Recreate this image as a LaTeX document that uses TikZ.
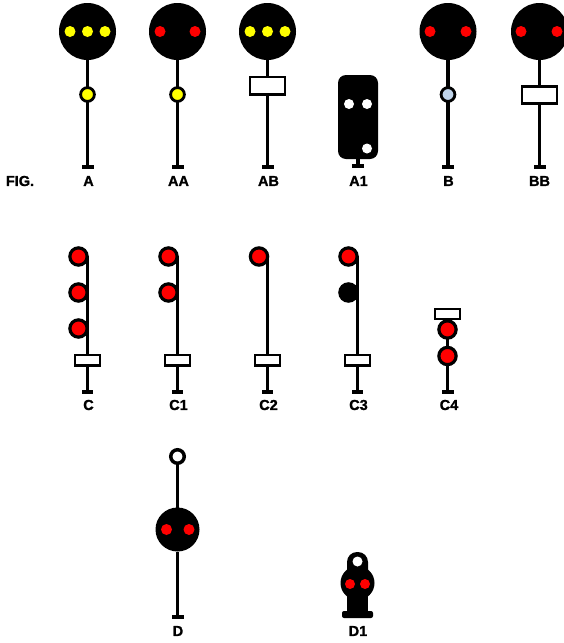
\documentclass[tikz,border=0pt]{standalone}
\usepackage{fontspec}
\setmainfont[BoldFeatures={FakeBold=1.2}]{Liberation Sans}
\usepackage{amssymb,amsfonts,amsmath,calc}
\usepackage{color}
\definecolor{lampred}{RGB}{255,0,0}
\definecolor{lampyellow}{RGB}{255,255,0}
\definecolor{lampblue}{RGB}{192,212,234}

\begin{document}
\begin{tikzpicture}[
	x=1pt, y=-1pt,
	head/.style={circle, fill=black, inner sep=0pt, outer sep=0pt, minimum size=57pt},
	smallhead/.style={circle, fill=black, inner sep=0pt, outer sep=0pt, minimum size=44pt},
	bulb/.style={circle, inner sep=0pt, minimum size=11pt},
	lamp/.style={circle, draw=black, line width=2.8pt, inner sep=0pt, outer sep=0pt, minimum size=13.8pt},
	biglamp/.style={circle, draw=black, line width=3.2pt, fill=lampred, inner sep=0pt, outer sep=0pt, minimum size=17.3pt},
	plate/.style={rectangle, draw=black, line width=2.4pt, fill=white, inner sep=0pt, outer sep=0pt},
	smallplate/.style={plate, minimum width=25.5pt, minimum height=10.5pt},
	bigplate/.style={plate, minimum width=35pt, minimum height=17.2pt},
	foot/.style={rectangle, fill=black, inner sep=0pt, outer sep=0pt, minimum width=12pt, minimum height=3.2pt},
	post/.style={line width=3.2pt},
	thinpost/.style={line width=2.6pt},
	lbl/.style={font=\bfseries\fontsize{14.5}{14.5}\selectfont, inner sep=0pt}
	]
	\useasboundingbox (0,0) rectangle (564,643);
	
	% top row
	\node[lbl] (fig) at (20,181) {FIG.};
	
	\node[head] (ah) at (87.5,31.5) {};
	\node[bulb, fill=lampyellow] (ah1) at (70,31.5) {};
	\node[bulb, fill=lampyellow] (ah2) at (87.5,31.5) {};
	\node[bulb, fill=lampyellow] (ah3) at (105,31.5) {};
	\node[lamp, fill=lampyellow] (al) at (87.5,94.5) {};
	\node[foot] (af) at (87.5,167) {};
	\node[lbl] (a) at (88.5,181) {A};
	\draw[post] (ah) to (al);
	\draw[post] (al) to (af);
	
	\node[head] (aah) at (177.5,31.5) {};
	\node[bulb, fill=lampred] (aah1) at (160,31.5) {};
	\node[bulb, fill=lampred] (aah2) at (195,31.5) {};
	\node[lamp, fill=lampyellow] (aal) at (177.5,94.5) {};
	\node[foot] (aaf) at (177.5,167) {};
	\node[lbl] (aa) at (178.5,181) {AA};
	\draw[post] (aah) to (aal);
	\draw[post] (aal) to (aaf);
	
	\node[head] (abh) at (267.5,31.5) {};
	\node[bulb, fill=lampyellow] (abh1) at (250,31.5) {};
	\node[bulb, fill=lampyellow] (abh2) at (267.5,31.5) {};
	\node[bulb, fill=lampyellow] (abh3) at (285,31.5) {};
	\node[bigplate] (abp) at (267.5,85.7) {};
	\node[foot] (abf) at (267.5,167) {};
	\node[lbl] (ab) at (268.5,181) {AB};
	\draw[post] (abh) to (abp);
	\draw[post] (abp) to (abf);
	
	\node[rectangle, rounded corners=8pt, fill=black, inner sep=0pt, outer sep=0pt, minimum width=40pt, minimum height=84pt] (a1b) at (358,117) {};
	\node[bulb, fill=white, minimum size=10pt] (a1l1) at (349,104) {};
	\node[bulb, fill=white, minimum size=10pt] (a1l2) at (367,104) {};
	\node[bulb, fill=white, minimum size=10pt] (a1l3) at (367,148.5) {};
	\node[foot] (a1f) at (358,166) {};
	\node[lbl] (a1) at (358.5,181) {A1};
	\draw[post] (a1b) to (a1f);
	
	\node[head] (bh) at (448,31.5) {};
	\node[bulb, fill=lampred] (bh1) at (430,31.5) {};
	\node[bulb, fill=lampred] (bh2) at (466,31.5) {};
	\node[lamp, fill=lampblue] (bl) at (448,94.5) {};
	\node[foot] (bf) at (448,167) {};
	\node[lbl] (b) at (448.5,181) {B};
	\draw[post] (bh) to (bl);
	\draw[post] (bl) to (bf);
	
	\node[head] (bbh) at (539.5,31.5) {};
	\node[bulb, fill=lampred] (bbh1) at (521,31.5) {};
	\node[bulb, fill=lampred] (bbh2) at (557,31.5) {};
	\node[bigplate] (bbp) at (539.5,95) {};
	\node[foot] (bbf) at (539.5,167) {};
	\node[lbl] (bb) at (539.5,181) {BB};
	\draw[post] (bbh) to (bbp);
	\draw[post] (bbp) to (bbf);
	
	% middle row
	\coordinate (ct) at (87.5,256);
	\node[smallplate] (cp) at (87.5,360.3) {};
	\node[foot, minimum width=11pt] (cf) at (87.5,392) {};
	\draw[thinpost] (ct) to (cp);
	\draw[post] (cp) to (cf);
	\node[biglamp] (cl1) at (78.5,256.5) {};
	\node[biglamp] (cl2) at (78.5,292.5) {};
	\node[biglamp] (cl3) at (78.5,328.5) {};
	\node[lbl] (c) at (88.5,405) {C};
	
	\coordinate (c1t) at (177.5,256);
	\node[smallplate] (c1p) at (177.5,360.3) {};
	\node[foot, minimum width=11pt] (c1f) at (177.5,392) {};
	\draw[thinpost] (c1t) to (c1p);
	\draw[post] (c1p) to (c1f);
	\node[biglamp] (c1l1) at (168.5,256.5) {};
	\node[biglamp] (c1l2) at (168.5,292.5) {};
	\node[lbl] (c1) at (178.5,405) {C1};
	
	\coordinate (c2t) at (267.5,256);
	\node[smallplate] (c2p) at (267.5,360.3) {};
	\node[foot, minimum width=11pt] (c2f) at (267.5,392) {};
	\draw[thinpost] (c2t) to (c2p);
	\draw[post] (c2p) to (c2f);
	\node[biglamp] (c2l1) at (259,256.5) {};
	\node[lbl] (c2) at (268.5,405) {C2};
	
	\coordinate (c3t) at (357.5,256);
	\node[smallplate] (c3p) at (357.5,360.3) {};
	\node[foot, minimum width=11pt] (c3f) at (357.5,392) {};
	\draw[thinpost] (c3t) to (c3p);
	\draw[post] (c3p) to (c3f);
	\node[biglamp] (c3l1) at (348.5,256.5) {};
	\node[biglamp, fill=black] (c3l2) at (348.5,292.5) {};
	\node[lbl] (c3) at (358.5,405) {C3};
	
	\node[foot] (c4f) at (447.5,392) {};
	\node[biglamp] (c4l2) at (447.5,356) {};
	\node[biglamp] (c4l1) at (447.5,329.5) {};
	\node[smallplate] (c4p) at (447.5,314) {};
	\draw[post] (c4l2) to (c4f);
	\draw[post] (c4l1) to (c4l2);
	\node[lbl] (c4) at (449,405) {C4};
	
	% bottom row
	\node[lamp, fill=white, line width=3.5pt, minimum size=13.5pt] (dl) at (177.5,456.5) {};
	\node[smallhead] (dh) at (177.5,529.5) {};
	\node[bulb, fill=lampred] (dh1) at (166.5,529.5) {};
	\node[bulb, fill=lampred] (dh2) at (189,529.5) {};
	\node[foot] (df) at (177.5,617) {};
	\node[lbl] (d) at (178,631) {D};
	\draw[thinpost] (dl) to (dh);
	\draw[thinpost] (dh) to (df);
	
	\node[rectangle, rounded corners=10pt, fill=black, inner sep=0pt, outer sep=0pt, minimum width=21pt, minimum height=40pt] (d1t) at (357.5,572) {};
	\node[rectangle, fill=black, inner sep=0pt, outer sep=0pt, minimum width=21pt, minimum height=30pt] (d1s) at (357.5,598) {};
	\node[circle, fill=black, inner sep=0pt, outer sep=0pt, minimum size=34pt] (d1h) at (357.5,583) {};
	\node[rectangle, rounded corners=2pt, fill=black, inner sep=0pt, outer sep=0pt, minimum width=31pt, minimum height=7pt] (d1f) at (357.5,614.5) {};
	\node[bulb, fill=white, minimum size=10pt] (d1l) at (357.5,561.5) {};
	\node[bulb, fill=lampred, minimum size=10pt] (d1h1) at (350,584) {};
	\node[bulb, fill=lampred, minimum size=10pt] (d1h2) at (365,584) {};
	\node[lbl] (d1) at (358,631) {D1};
	\end{tikzpicture}
\end{document}
